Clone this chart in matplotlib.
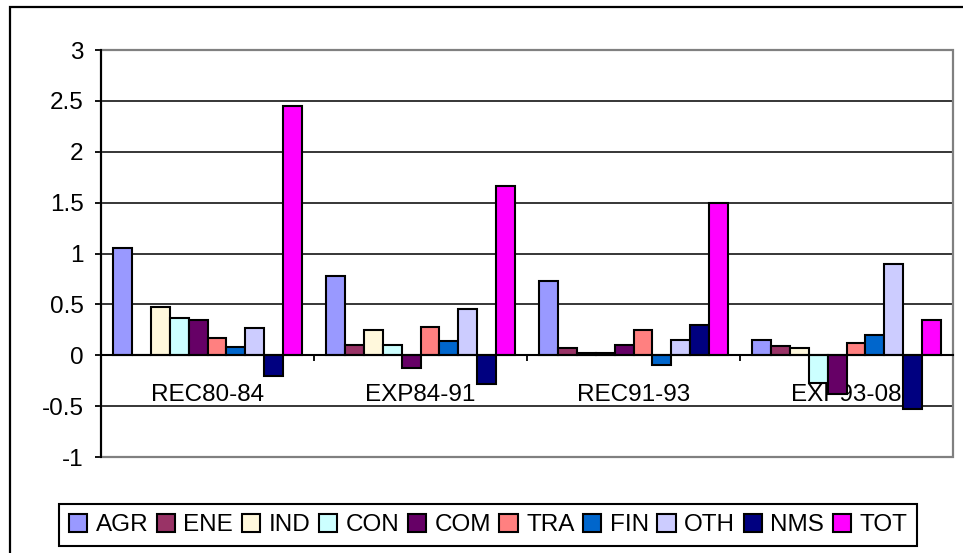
import matplotlib
matplotlib.use('Agg')
import matplotlib.pyplot as plt
import numpy as np
from matplotlib.patches import Rectangle
from matplotlib.ticker import FuncFormatter, FixedLocator

plt.rcParams['font.family'] = ['Liberation Sans', 'DejaVu Sans']
plt.rcParams['axes.unicode_minus'] = False

periods = ['REC80-84', 'EXP84-91', 'REC91-93', 'EXP93-08']
sectors = ['AGR', 'ENE', 'IND', 'CON', 'COM', 'TRA', 'FIN', 'OTH', 'NMS', 'TOT']
colors = ['#9999FF', '#993366', '#FFF8DC', '#CCFFFF', '#660066',
          '#FF8080', '#0066CC', '#CCCCFF', '#000080', '#FF00FF']

AGR = [1.05, 0.78, 0.73, 0.15]
ENE = [0.00, 0.10, 0.07, 0.09]
IND = [0.47, 0.25, 0.02, 0.07]
CON = [0.37, 0.10, 0.02, -0.27]
COM = [0.35, -0.13, 0.10, -0.38]
TRA = [0.17, 0.28, 0.25, 0.12]
FIN = [0.08, 0.14, -0.10, 0.20]
OTH = [0.27, 0.45, 0.15, 0.90]
NMS = [-0.20, -0.28, 0.30, -0.53]
TOT = [2.45, 1.66, 1.50, 0.35]
series = [AGR, ENE, IND, CON, COM, TRA, FIN, OTH, NMS, TOT]

fig = plt.figure(figsize=(9.63, 5.53), dpi=100)
ax = fig.add_axes([101/963, 1 - 457/553, 852/963, 407/553])

fs = 17.5
w = 0.0883
centers = np.arange(len(periods)) + 0.5
for i, (name, vals, c) in enumerate(zip(sectors, series, colors)):
    ax.bar(centers + (i - 4.5) * w, vals, width=w, color=c,
           edgecolor='black', linewidth=1.5, label=name, zorder=2)

ax.set_xlim(0, 4)
ax.set_ylim(-1, 3)
ax.set_yticks(np.arange(-1, 3.01, 0.5))
ax.yaxis.set_major_formatter(FuncFormatter(lambda v, p: '%g' % v))
ax.yaxis.grid(True, color='black', linewidth=1.1)
ax.set_axisbelow(True)

# category axis crosses at zero
ax.spines['bottom'].set_position(('data', 0))
ax.spines['bottom'].set_linewidth(1.5)
ax.spines['bottom'].set_zorder(3)
ax.xaxis.set_major_locator(FixedLocator([0, 1, 2, 3, 4]))
ax.xaxis.set_minor_locator(FixedLocator(centers))
ax.set_xticklabels([])
ax.set_xticklabels(periods, minor=True)
ax.tick_params(axis='x', which='major', direction='out', length=4.5, width=1.3)
ax.tick_params(axis='x', which='minor', length=0, pad=21, labelsize=fs)
ax.tick_params(axis='y', direction='out', length=4.5, width=1.3, pad=8, labelsize=fs)

for s in ['top', 'right']:
    ax.spines[s].set_visible(False)
ax.spines['left'].set_linewidth(1.5)
ax.spines['left'].set_zorder(4)
ax.add_patch(Rectangle((0, 0), 1, 1, transform=ax.transAxes, fill=False,
                       edgecolor='#808080', linewidth=1.6, zorder=2.6, clip_on=False))

# outer chart frame
fig.patches.append(Rectangle((10/963, -0.1), 1.2, (1 - 7/553) + 0.1,
                             transform=fig.transFigure, fill=False,
                             edgecolor='black', linewidth=1.6))

leg = fig.legend(loc='center', bbox_to_anchor=(488/963, 1 - 525/553), ncol=10,
                 fontsize=fs, handlelength=0.75, handleheight=0.75,
                 handletextpad=0.35, columnspacing=0.35, borderpad=0.4,
                 fancybox=False, framealpha=1, edgecolor='black')
leg.get_frame().set_linewidth(1.5)

plt.savefig('out.png', dpi=100)
